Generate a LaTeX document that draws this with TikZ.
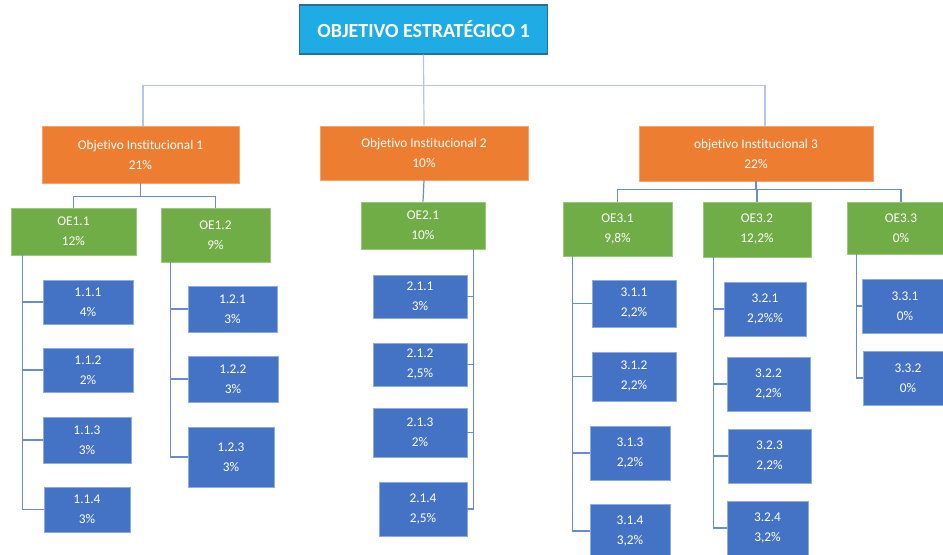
\documentclass[tikz,border=0pt]{standalone}
\usepackage{fontspec}
\setmainfont[Ligatures={NoCommon,NoContextual}]{Carlito}
\usetikzlibrary{calc}
\definecolor{cTop}{HTML}{1FABE3}
\definecolor{cTopB}{HTML}{2A6F97}
\definecolor{cOra}{HTML}{ED7D31}
\definecolor{cGre}{HTML}{70AD47}
\definecolor{cBlu}{HTML}{4472C4}
\definecolor{cLine}{HTML}{6A8CCF}
\definecolor{cLineT}{HTML}{B3C6EA}
\tikzset{
  wh/.style 2 args={minimum width=#1*0.75pt, minimum height=#2*0.75pt},
  base/.style={inner sep=0pt, align=center, text=white, font=\fontsize{10}{15}\selectfont, line width=0.5pt},
  topbox/.style={base, fill=cTop, draw=cTopB, line width=0.9pt, font=\fontsize{15}{18}\selectfont\bfseries},
  orabox/.style={base, fill=cOra, draw=cOra!70!white},
  grebox/.style={base, fill=cGre, draw=cGre!70!white},
  leafbox/.style={base, fill=cBlu, draw=cBlu!60!white},
  conn/.style={draw=cLine, line width=0.9pt},
  connT/.style={draw=cLineT, line width=0.9pt},
}
\begin{document}
\begin{tikzpicture}[x=0.75pt,y=-0.75pt]
\useasboundingbox (0,0) rectangle (943,554);
\clip (0,0) rectangle (943,554);
% top
\node[topbox, wh={248}{49}] (top) at (423.5,29.5) {OBJETIVO ESTRATÉGICO 1};
% level 1
\node[orabox, wh={197}{57}] (oi1) at (140.5,154.5) {Objetivo Institucional 1\\21\%};
\node[orabox, wh={208}{54}] (oi2) at (424,153) {Objetivo Institucional 2\\10\%};
\node[orabox, wh={234}{55}] (oi3) at (756,153.5) {objetivo Institucional 3\\22\%};
% level 2
\node[grebox, wh={125}{47}] (oe11) at (73.5,231.5) {OE1.1\\12\%};
\node[grebox, wh={109}{54}] (oe12) at (215.5,235) {OE1.2\\9\%};
\node[grebox, wh={124}{47}] (oe21) at (423,225.5) {OE2.1\\10\%};
\node[grebox, wh={109}{54}] (oe31) at (617.5,229) {OE3.1\\9,8\%};
\node[grebox, wh={108}{55}] (oe32) at (757,229.5) {OE3.2\\12,2\%};
\node[grebox, wh={108}{52}] (oe33) at (901,228) {OE3.3\\0\%};
% leaves
\node[leafbox, wh={90}{44}] (l111) at (88,302) {1.1.1\\4\%};
\node[leafbox, wh={90}{44}] (l112) at (88,370) {1.1.2\\2\%};
\node[leafbox, wh={88}{46}] (l113) at (87,440) {1.1.3\\3\%};
\node[leafbox, wh={86}{45}] (l114) at (87,509.5) {1.1.4\\3\%};
\node[leafbox, wh={89}{46}] (l121) at (232.5,309) {1.2.1\\3\%};
\node[leafbox, wh={90}{46}] (l122) at (233,379) {1.2.2\\3\%};
\node[leafbox, wh={86}{60}] (l123) at (231,457) {1.2.3\\3\%};
\node[leafbox, wh={94}{43}] (l211) at (420,296.5) {2.1.1\\3\%};
\node[leafbox, wh={94}{43}] (l212) at (420,364.5) {2.1.2\\2,5\%};
\node[leafbox, wh={94}{49}] (l213) at (420,432.5) {2.1.3\\2\%};
\node[leafbox, wh={88}{54}] (l214) at (423,509) {2.1.4\\2,5\%};
\node[leafbox, wh={84}{47}] (l311) at (634,303.5) {3.1.1\\2,2\%};
\node[leafbox, wh={84}{49}] (l312) at (634,376.5) {3.1.2\\2,2\%};
\node[leafbox, wh={80}{54}] (l313) at (630,453) {3.1.3\\2,2\%};
\node[leafbox, wh={80}{54}] (l314) at (630,531) {3.1.4\\3,2\%};
\node[leafbox, wh={82}{54}] (l321) at (765,309) {3.2.1\\2,2\%\%};
\node[leafbox, wh={83}{54}] (l322) at (768.5,384) {3.2.2\\2,2\%};
\node[leafbox, wh={83}{54}] (l323) at (769.5,456) {3.2.3\\2,2\%};
\node[leafbox, wh={81}{54}] (l324) at (767.5,528) {3.2.4\\3,2\%};
\node[leafbox, wh={86}{54}] (l331) at (905,306) {3.3.1\\0\%};
\node[leafbox, wh={90}{54}] (l332) at (908,378) {3.3.2\\0\%};
% top connectors
\draw[connT] (top.south) -- ++(0,31) -| ($(oi1.north)+(2.5,0)$);
\draw[connT] (top.south) -- ++(0,31) -| ($(oi3.north)+(9,0)$);
\draw[connT] (top.south) -- (oi2.north);
% level 1 -> level 2
\draw[conn] (oi1.south) -- ++(0,13) -| (oe11.north);
\draw[conn] (oi1.south) -- ++(0,13) -| (oe12.north);
\draw[conn] (oi2.south) -- (oe21.north);
\draw[conn] (oi3.south) -- ++(0,8) -| (oe31.north);
\draw[conn] (oi3.south) -- ++(0,8) -| (oe32.north);
\draw[conn] (oi3.south) -- ++(0,8) -| (oe33.north);
% spines
\coordinate (s11) at ($(oe11.south west)+(12,0)$);
\coordinate (s12) at ($(oe12.south west)+(10,0)$);
\coordinate (s21) at ($(oe21.south east)+(-12,0)$);
\coordinate (s31) at ($(oe31.south west)+(10,0)$);
\coordinate (s32) at ($(oe32.south west)+(11,0)$);
\coordinate (s33) at ($(oe33.south west)+(10,0)$);
\draw[conn] (s11) |- (l114.west);
\foreach \n in {l111,l112,l113} \draw[conn] (s11 |- \n.west) -- (\n.west);
\draw[conn] (s12) |- (l123.west);
\foreach \n in {l121,l122} \draw[conn] (s12 |- \n.west) -- (\n.west);
\draw[conn] (s21) |- (l214.east);
\foreach \n in {l211,l212,l213} \draw[conn] (s21 |- \n.east) -- (\n.east);
\draw[conn] (s31) |- (l314.west);
\foreach \n in {l311,l312,l313} \draw[conn] (s31 |- \n.west) -- (\n.west);
\draw[conn] (s32) |- (l324.west);
\foreach \n in {l321,l322,l323} \draw[conn] (s32 |- \n.west) -- (\n.west);
\draw[conn] (s33) |- (l332.west);
\draw[conn] (s33 |- l331.west) -- (l331.west);
\end{tikzpicture}
\end{document}
